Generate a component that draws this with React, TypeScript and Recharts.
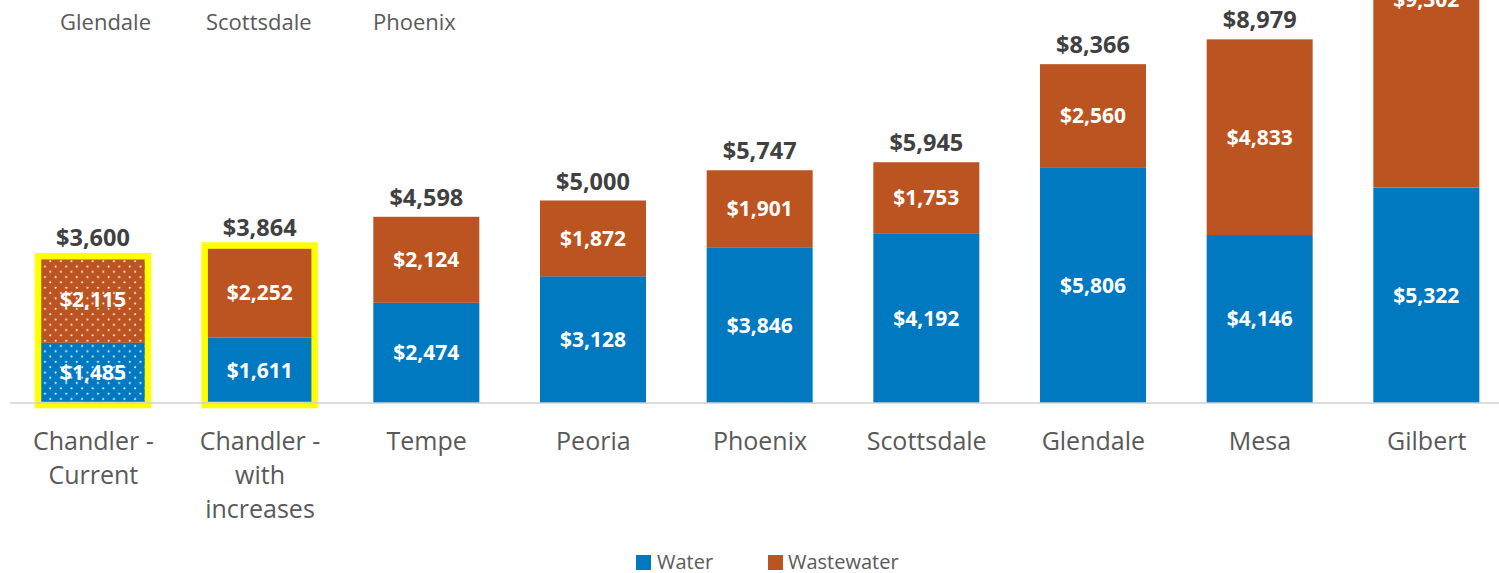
import React from 'react';
import { BarChart, Bar, XAxis, YAxis, LabelList, Cell } from 'recharts';

const categories = [
  'Chandler - Current',
  'Chandler - with increases',
  'Tempe',
  'Peoria',
  'Phoenix',
  'Scottsdale',
  'Glendale',
  'Mesa',
  'Gilbert',
];
const tickLines = [
  ['Chandler -', 'Current'],
  ['Chandler -', 'with', 'increases'],
  ['Tempe'],
  ['Peoria'],
  ['Phoenix'],
  ['Scottsdale'],
  ['Glendale'],
  ['Mesa'],
  ['Gilbert'],
];
const water = [1485, 1611, 2474, 3128, 3846, 4192, 5806, 4146, 5322];
const wastewater = [2115, 2252, 2124, 1872, 1901, 1753, 2560, 4833, 9302];
const totals = [3600, 3864, 4598, 5000, 5747, 5945, 8366, 8979, 14624];
const highlighted = [true, true, false, false, false, false, false, false, false];
const patterned = [true, false, false, false, false, false, false, false, false];
const seriesNames = ['Water', 'Wastewater'];
const headerLabels = ['Glendale', 'Scottsdale', 'Phoenix'];
const headerX = [60, 206, 373];

const BLUE = '#0079C1';
const ORANGE = '#BC5421';
const YELLOW = '#FFFF00';
const GRAY = '#595959';
const DARK = '#404040';
const FONT = "'Open Sans', sans-serif";

const data = categories.map((name, i) => ({
  name,
  water: water[i],
  wastewater: wastewater[i],
  total: totals[i],
}));

const money = (v: any) => '$' + Number(v).toLocaleString('en-US');

const WasteShape = (props: any) => {
  const { x, y, width, height, fill, payload, background } = props;
  const idx = categories.indexOf(payload?.name);
  const base =
    background && background.height
      ? background.y + background.height
      : y + height + (height * payload.water) / payload.wastewater;
  return (
    <g>
      <rect x={x} y={y} width={width} height={height} fill={fill} />
      {highlighted[idx] && (
        <rect
          x={x - 2}
          y={y - 1}
          width={width + 4}
          height={base - y + 3}
          fill="none"
          stroke={YELLOW}
          strokeWidth={6.5}
        />
      )}
    </g>
  );
};

const CategoryTick = (props: any) => {
  const { x, y, payload } = props;
  const idx = categories.indexOf(payload.value);
  const lines = idx >= 0 ? tickLines[idx] : [String(payload.value)];
  return (
    <g transform={`translate(${x},${y})`}>
      {lines.map((l, i) => (
        <text
          key={i}
          x={0}
          y={46.5 + i * 34}
          textAnchor="middle"
          fill={GRAY}
          fontSize={25}
          fontFamily={FONT}
        >
          {l}
        </text>
      ))}
    </g>
  );
};

export default function App() {
  return (
    <div
      style={{
        position: 'absolute',
        left: 0,
        top: 0,
        width: 1499,
        height: 573,
        overflow: 'hidden',
        background: '#fff',
        fontFamily: FONT,
      }}
    >
      <div style={{ position: 'absolute', left: 0, top: -245 }}>
        <BarChart
          width={1520}
          height={818}
          data={data}
          margin={{ top: 0, right: 10, bottom: 0, left: 10 }}
          barSize={106}
        >
          <XAxis
            dataKey="name"
            height={170}
            interval={0}
            tickLine={false}
            tickSize={0}
            tickMargin={0}
            axisLine={{ stroke: '#d0d0d0', strokeWidth: 1.5 }}
            tick={<CategoryTick />}
          />
          <YAxis hide domain={[0, 16000]} type="number" />
          <Bar dataKey="water" name={seriesNames[0]} stackId="a" fill={BLUE} isAnimationActive={false}>
            {data.map((d, i) => (
              <Cell key={d.name} fill={patterned[i] ? 'url(#dotsBlue)' : BLUE} />
            ))}
            <LabelList
              dataKey="water"
              position="center"
              formatter={money}
              fill="#fff"
              fontSize={21}
              fontWeight="bold"
              fontFamily={FONT}
            />
          </Bar>
          <Bar
            dataKey="wastewater"
            name={seriesNames[1]}
            stackId="a"
            fill={ORANGE}
            isAnimationActive={false}
            shape={<WasteShape />}
          >
            {data.map((d, i) => (
              <Cell key={d.name} fill={patterned[i] ? 'url(#dotsOrange)' : ORANGE} />
            ))}
            <LabelList
              dataKey="wastewater"
              position="center"
              formatter={money}
              fill="#fff"
              fontSize={21}
              fontWeight="bold"
              fontFamily={FONT}
            />
            <LabelList
              dataKey="total"
              position="top"
              offset={11}
              formatter={money}
              fill={DARK}
              fontSize={23.5}
              fontWeight="bold"
              fontFamily={FONT}
            />
          </Bar>
        </BarChart>
      </div>
      <svg
        width={1499}
        height={573}
        style={{ position: 'absolute', left: 0, top: 0, pointerEvents: 'none' }}
      >
        <defs>
          <pattern id="dotsBlue" width="10.6" height="10.6" patternUnits="userSpaceOnUse">
            <rect width="10.6" height="10.6" fill={BLUE} />
            <circle cx="2.6" cy="2.6" r="1" fill="#fff" />
            <circle cx="7.9" cy="7.9" r="1" fill="#fff" />
          </pattern>
          <pattern id="dotsOrange" width="10.6" height="10.6" patternUnits="userSpaceOnUse">
            <rect width="10.6" height="10.6" fill={ORANGE} />
            <circle cx="2.6" cy="2.6" r="1" fill="#fff" />
            <circle cx="7.9" cy="7.9" r="1" fill="#fff" />
          </pattern>
        </defs>
        {headerLabels.map((t, i) => (
          <text key={t} x={headerX[i]} y={29.5} fontSize={22} fill={GRAY} fontFamily={FONT}>
            {t}
          </text>
        ))}
        <rect x={636} y={555} width={15} height={15} fill={BLUE} />
        <text x={657} y={569} fontSize={20} fill={GRAY} fontFamily={FONT}>
          {seriesNames[0]}
        </text>
        <rect x={768} y={555} width={15} height={15} fill={ORANGE} />
        <text x={788} y={569} fontSize={20} fill={GRAY} fontFamily={FONT}>
          {seriesNames[1]}
        </text>
      </svg>
    </div>
  );
}
